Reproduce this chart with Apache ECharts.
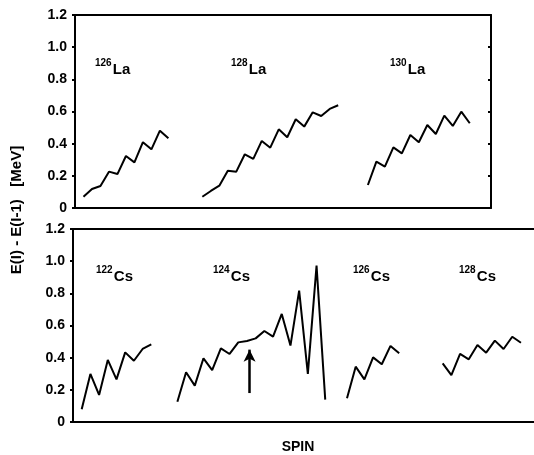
<!DOCTYPE html>
<html><head><meta charset="utf-8">
<script src="https://cdn.jsdelivr.net/npm/echarts@6/dist/echarts.min.js"></script>
<style>html,body{margin:0;padding:0;background:#fff}#c{width:534px;height:455px}</style>
</head><body><div id="c"></div>
<script>
// Top panel (La isotopes): start spin index and E(I)-E(I-1) values [MeV]
const la126Start = 1;
const la126 = [0.07, 0.118, 0.137, 0.226, 0.211, 0.323, 0.284, 0.409, 0.365, 0.481, 0.433];
const la128Start = 15;
const la128 = [0.07, 0.106, 0.139, 0.232, 0.226, 0.334, 0.305, 0.417, 0.375, 0.489, 0.44, 0.552, 0.506, 0.595, 0.572, 0.616, 0.639];
const la130Start = 34.5;
const la130 = [0.143, 0.288, 0.257, 0.377, 0.34, 0.454, 0.409, 0.516, 0.46, 0.574, 0.51, 0.599, 0.527];
// Bottom panel (Cs isotopes)
const cs122Start = 1;
const cs122 = [0.079, 0.299, 0.168, 0.386, 0.265, 0.433, 0.381, 0.454, 0.483];
const cs124Start = 12;
const cs124 = [0.126, 0.309, 0.226, 0.396, 0.323, 0.458, 0.423, 0.495, 0.504, 0.52, 0.566, 0.531, 0.672, 0.475, 0.817, 0.299, 0.972, 0.139];
const cs126Start = 31.5;
const cs126 = [0.147, 0.344, 0.265, 0.402, 0.359, 0.473, 0.427];
const cs128Start = 42.5;
const cs128 = [0.365, 0.292, 0.423, 0.39, 0.479, 0.431, 0.506, 0.454, 0.53, 0.493];
const arrowSpin = 20.3, arrowFrom = 0.18, arrowTo = 0.45;

function pts(start, vals){ return vals.map((v,i)=>[start+i, v]); }

const FONT = 'Liberation Sans';
const chart = echarts.init(document.getElementById('c'), null, {renderer:'canvas'});
const lineStyle = {color:'#000', width:2};
function ser(name, start, vals, xi, yi, extra){
  return Object.assign({type:'line', name, data:pts(start, vals), xAxisIndex:xi, yAxisIndex:yi,
    showSymbol:false, symbol:'none', lineStyle, animation:false, silent:true}, extra||{});
}
const axisLine = {show:true, onZero:false, lineStyle:{color:'#000', width:2}};
const yLabel = {color:'#000', fontFamily:FONT, fontWeight:'bold', fontSize:14, margin:8,
  formatter: v => v===0 ? '0' : v.toFixed(1)};

function label(x, y, sup, main){
  return [
    {type:'text', left:x, top:y, style:{text:sup, font:'bold 10px '+FONT, fill:'#000'}},
    {type:'text', left:x+sup.length*5.6+1, top:y+4, style:{text:main, font:'bold 15px '+FONT, fill:'#000'}}
  ];
}
function xAx(g, max, pos){
  return {gridIndex:g, type:'value', min:0, max, position:pos, axisLine, axisTick:{show:false}, axisLabel:{show:false}, splitLine:{show:false}};
}

chart.setOption({
  backgroundColor:'#fff',
  animation:false,
  grid:[
    {left:75, top:15, right:43, height:193},
    {left:73, top:229, right:0, height:193}
  ],
  xAxis:[ xAx(0,49,'bottom'), xAx(0,49,'top'), xAx(1,53,'bottom'), xAx(1,53,'top') ],
  yAxis:[
    {gridIndex:0, type:'value', min:0, max:1.2, interval:0.2, position:'left', axisLine, axisTick:{show:true, length:3, lineStyle:{color:'#000', width:2}}, axisLabel:yLabel, splitLine:{show:false}},
    {gridIndex:0, type:'value', min:0, max:1.2, interval:0.2, position:'right', axisLine, axisTick:{show:true, inside:true, length:3, lineStyle:{color:'#000', width:2}}, axisLabel:{show:false}, splitLine:{show:false}},
    {gridIndex:1, type:'value', min:0, max:1.2, interval:0.2, position:'left', axisLine, axisTick:{show:true, length:3, lineStyle:{color:'#000', width:2}}, axisLabel:yLabel, splitLine:{show:false}}
  ],
  series:[
    ser('126La', la126Start, la126, 0, 0),
    ser('128La', la128Start, la128, 0, 0),
    ser('130La', la130Start, la130, 0, 0),
    ser('122Cs', cs122Start, cs122, 2, 2),
    ser('124Cs', cs124Start, cs124, 2, 2, {markLine:{silent:true, animation:false, symbol:['none','arrow'], symbolSize:[9,12],
      lineStyle:{color:'#000', width:2.5, type:'solid'}, label:{show:false},
      data:[[{coord:[arrowSpin, arrowFrom]},{coord:[arrowSpin, arrowTo]}]]}}),
    ser('126Cs', cs126Start, cs126, 2, 2),
    ser('128Cs', cs128Start, cs128, 2, 2)
  ],
  graphic:[].concat(
    label(95, 58, '126', 'La'),
    label(231, 58, '128', 'La'),
    label(390, 58, '130', 'La'),
    label(96, 265, '122', 'Cs'),
    label(213, 265, '124', 'Cs'),
    label(353, 265, '126', 'Cs'),
    label(459, 265, '128', 'Cs'),
    [
      {type:'text', x:17, y:210, rotation:Math.PI/2, style:{text:'E(I) - E(I-1)   [MeV]', font:'bold 15px '+FONT, fill:'#000', align:'center', verticalAlign:'middle'}},
      {type:'text', x:298, y:447, style:{text:'SPIN', font:'bold 14px '+FONT, fill:'#000', align:'center', verticalAlign:'middle'}}
    ]
  )
});
</script></body></html>
